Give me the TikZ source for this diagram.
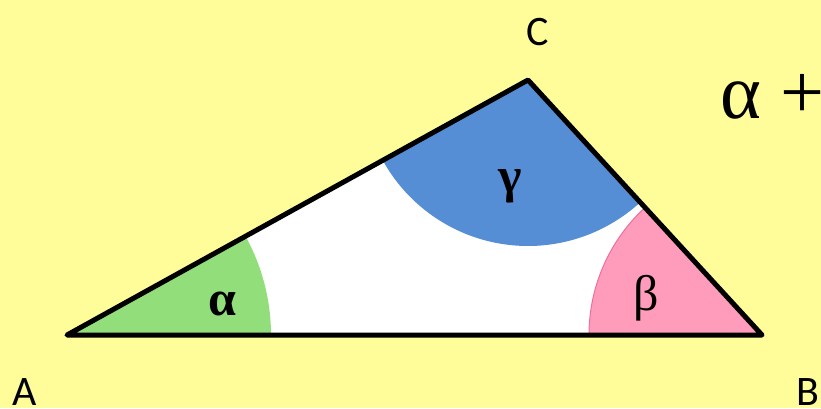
\documentclass[tikz,border=0pt]{standalone}
\usepackage{fontspec}
\setmainfont{Carlito}
\newfontfamily\greekfont{Liberation Serif}
\definecolor{Paper}{RGB}{255,253,153}
\definecolor{AlphaGreen}{RGB}{146,222,122}
\definecolor{BetaPink}{RGB}{255,156,187}
\definecolor{BetaEdge}{RGB}{240,110,155}
\definecolor{GammaBlue}{RGB}{85,142,213}
\usetikzlibrary{calc}

\begin{document}
\begin{tikzpicture}[x=1pt,y=1pt,
  vertex/.style={font=\fontsize{42}{42}\selectfont,inner sep=0pt},
  greek/.style={font=\greekfont\fontsize{50}{50}\selectfont,inner sep=0pt},
  side/.style={line width=5pt,line join=round,line cap=round}]
  \fill[Paper] (0,0) rectangle (821,408);
  \useasboundingbox (0,0) rectangle (821,408);
  \coordinate (A) at (67,73);
  \coordinate (B) at (762,73);
  \coordinate (C) at (528,328);
  \fill[white] (A) -- (B) -- (C) -- cycle;
  % angle sectors
  \fill[AlphaGreen] (A) -- ++(0:204) arc[start angle=0,end angle=28.95,radius=204] -- cycle;
  \filldraw[fill=BetaPink,draw=BetaEdge,line width=1pt] (B) -- ++(180:173) arc[start angle=180,end angle=132.54,radius=173] -- cycle;
  \fill[GammaBlue] (C) -- ++(208.95:166) arc[start angle=208.95,end angle=312.54,radius=166] -- cycle;
  \draw[side] (A) -- (B) -- (C) -- cycle;
  \node[greek] (alpha) at (222,104) {\textbf{α}};
  \node[greek] (beta) at (646,110) {β};
  \node[greek] (gamma) at (510,222) {\textbf{γ}};
  \node[vertex] (labA) at (25,16) {A};
  \node[vertex] (labB) at (808,16) {B};
  \node[vertex] (labC) at (538,376) {C};
  \node[font=\greekfont\fontsize{78}{78}\selectfont,inner sep=0pt,anchor=west] (sum) at (720,311) {α +};
\end{tikzpicture}
\end{document}
